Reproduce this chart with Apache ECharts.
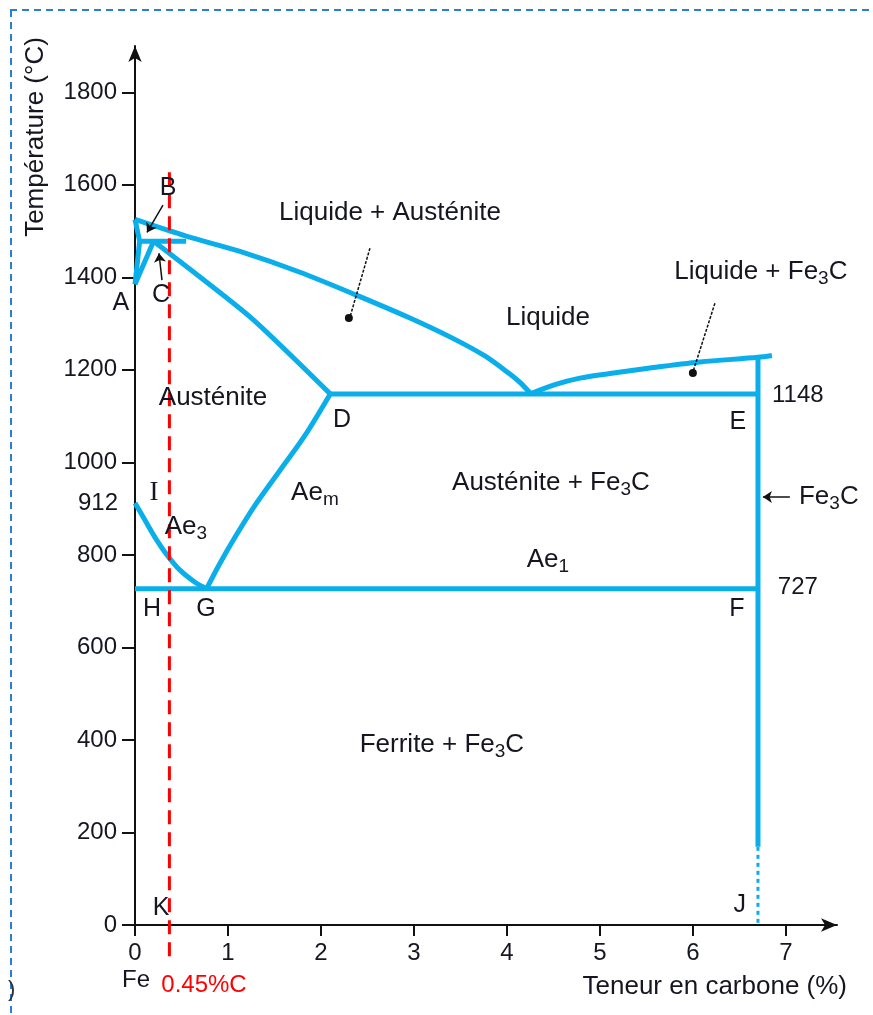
<!DOCTYPE html>
<html><head><meta charset="utf-8">
<script src="https://cdn.jsdelivr.net/npm/echarts@6/dist/echarts.min.js"></script>
<style>html,body{margin:0;padding:0;background:#fff}#c{width:873px;height:1015px}</style>
</head><body><div id="c"></div>
<script>
// ---- data (carbon %, temperature °C) ----
const xTicks = [0, 1, 2, 3, 4, 5, 6, 7];
const yTicks = [0, 200, 400, 600, 800, 1000, 1200, 1400, 1600, 1800];
const T_melt = 1525, T_peri = 1478, T_A = 1385, T_I = 912, T_eut = 1148, T_eutd = 727;
const liquidusAustenite = [[0,1525],[0.55,1489],[1.129,1456],[1.774,1411],[2.387,1361],[2.957,1312],[3.419,1268],[3.763,1230],[4.032,1191],[4.14,1173],[4.25,1150]];
const peritectic = [[0.05,1478],[0.55,1478]];
const deltaSolidus = [[0,1525],[0.05,1478]];
const deltaSolvus = [[0,1385],[0.05,1478]];
const gammaDelta = [[0,1385],[0.2,1478]];
const solidusAustenite = [[0.2,1478],[1.24,1314],[2.1,1148]];
const eutecticLine = [[2.1,1148],[6.7,1148]];
const liquidusCementite = [[4.25,1148],[4.516,1168],[4.785,1182],[5.108,1192],[5.538,1204],[6.075,1217],[6.7,1227],[6.85,1231]];
const cementiteLine = [[6.7,1231],[6.7,169]];
const cementiteLow = [[6.7,169],[6.7,0]];
const eutectoidLine = [[0,727],[6.7,727]];
const ae3 = [[0,912],[0.108,875],[0.215,838],[0.344,800],[0.484,767],[0.645,741],[0.77,727]];
const acm = [[0.77,727],[0.914,782],[1.075,838],[1.29,907],[1.56,983],[1.83,1059],[2.1,1148]];
const steel = [[0.37,1627],[0.37,-71]];
// reference (dotted) lines toward the temperature axis
const refLines = [
  [[-0.914,T_melt],[0,T_melt]],
  [[-1.344,T_peri],[0,T_peri]],
  [[-1.344,T_A],[0,T_A]],
  [[-1.344,T_I],[-0.70,T_I]],
  [[-0.14,T_I],[0,T_I]],
  [[-1.344,T_eutd],[0,T_eutd]]
];
// pointer lines with dots, and arrows
const pointers = [[[2.527,1463],[2.312,1314]], [[6.237,1344],[6.0,1195]]];
const pointerDots = [[2.30,1312],[6.0,1193]];
const arrows = [[[0.301,1556],[0.129,1497]], [[0.290,1394],[0.258,1452]], [[7.043,925],[6.753,925]]];
// text annotations: [text, x, T, kind]
const annotations = [
  ['B', 0.355, 1593, 'letter'],
  ['A', -0.151, 1344, 'letter'],
  ['C', 0.28, 1361, 'letter'],
  ['Liquide + Austénite', 2.742, 1539, 'region'],
  ['Liquide', 4.441, 1312, 'region'],
  ['Liquide + Fe{s|3}C', 6.731, 1411, 'region'],
  [String(T_eut), 7.129, 1145, 'num'],
  ['E', 6.484, 1087, 'letter'],
  ['Austénite', 0.839, 1139, 'region'],
  ['D', 2.226, 1091, 'letter'],
  ['I', 0.204, 933, 'serif'],
  ['Ae{s|m}', 1.935, 935, 'region'],
  ['Ae{s|3}', 0.548, 860, 'region'],
  ['H', 0.183, 683, 'letter'],
  ['G', 0.763, 683, 'letter'],
  ['Austénite + Fe{s|3}C', 4.473, 955, 'region'],
  ['Ae{s|1}', 4.441, 789, 'region'],
  ['Fe{s|3}C', 7.462, 925, 'region'],
  [String(T_eutd), 7.129, 730, 'num'],
  ['F', 6.473, 683, 'letter'],
  ['Ferrite + Fe{s|3}C', 3.301, 389, 'region'],
  ['K', 0.28, 37, 'letter'],
  ['J', 6.505, 43, 'letter'],
  ['Fe', 0.011, -119, 'num'],
  ['0.45%C', 0.742, -130, 'red'],
  [String(T_I), -0.398, 912, 'num']
];

const BLUE = '#0AAEEA';
const TXT = '#161622';
const FONT = 'Liberation Sans, Arial, sans-serif';
function blue(data, extra) {
  return Object.assign({
    type: 'line', data: data, symbol: 'none', silent: true, clip: false,
    lineStyle: { color: BLUE, width: 5, cap: 'butt', join: 'round' }, z: 3
  }, extra || {});
}
const kindStyle = {
  letter: { fontSize: 25, color: TXT, fontFamily: FONT },
  serif: { fontSize: 27, color: TXT, fontFamily: 'Liberation Serif, serif' },
  region: { fontSize: 26, color: TXT, fontFamily: FONT },
  num: { fontSize: 24, color: TXT, fontFamily: FONT },
  red: { fontSize: 24, color: '#ff0000', fontFamily: FONT }
};

const series = [
  blue(liquidusAustenite, { smooth: 0.3 }),
  blue(peritectic), blue(deltaSolidus), blue(deltaSolvus), blue(gammaDelta),
  blue(solidusAustenite, { smooth: 0.2 }),
  blue(eutecticLine),
  blue(liquidusCementite, { smooth: 0.3 }),
  blue(cementiteLine),
  blue(cementiteLow, { lineStyle: { color: BLUE, width: 3, type: [4, 4] } }),
  blue(eutectoidLine),
  blue(ae3, { smooth: 0.3 }),
  blue(acm, { smooth: 0.3 }),
  { type: 'line', data: steel, symbol: 'none', clip: false, silent: true, z: 5,
    lineStyle: { color: '#ff0000', width: 3, type: [14, 8] } }
];
refLines.forEach(function (d) {
  series.push({ type: 'line', data: d, symbol: 'none', clip: false, silent: true, z: 2,
    lineStyle: { color: '#111', width: 1.5, type: [4, 2] } });
});
series.push({
  type: 'lines', coordinateSystem: 'cartesian2d', silent: true, z: 6,
  data: pointers.map(function (c) { return { coords: c }; }),
  lineStyle: { color: '#111', width: 1.5, type: [3, 1.5], opacity: 1 }
});
series.push({
  type: 'lines', coordinateSystem: 'cartesian2d', silent: true, z: 6,
  symbol: ['none', 'arrow'], symbolSize: 9,
  data: arrows.map(function (c) { return { coords: c }; }),
  lineStyle: { color: '#111', width: 1.5, opacity: 1 }
});
series.push({
  type: 'scatter', data: pointerDots, symbolSize: 8, clip: false, silent: true, z: 7,
  itemStyle: { color: '#111', opacity: 1 }
});
series.push({
  type: 'scatter', clip: false, silent: true, z: 8,
  symbol: 'circle', symbolSize: 1, itemStyle: { color: 'rgba(0,0,0,0)', opacity: 1 },
  data: annotations.map(function (a) {
    const st = kindStyle[a[3]];
    return {
      value: [a[1], a[2]],
      label: Object.assign({
        show: true, position: 'inside', formatter: function () { return a[0]; },
        rich: { s: { fontSize: Math.round(st.fontSize * 0.72), color: st.color, fontFamily: st.fontFamily, padding: [14, 0, 0, 0] } }
      }, st)
    };
  })
});

const chart = echarts.init(document.getElementById('c'));
chart.setOption({
  animation: false,
  backgroundColor: '#fff',
  grid: { left: 135, top: 46, width: 702, height: 879, outerBoundsMode: 'none' },
  xAxis: {
    type: 'value', min: 0, max: 7.55,
    axisLine: { lineStyle: { color: '#111', width: 2 }, symbol: ['none', 'arrow'], symbolSize: [10, 16] },
    axisTick: { show: true, length: 11, lineStyle: { color: '#111', width: 2 }, customValues: xTicks },
    axisLabel: { customValues: xTicks, fontSize: 24, color: TXT, fontFamily: FONT, margin: 16,
      formatter: function (v) { return String(v); } },
    splitLine: { show: false }
  },
  yAxis: {
    type: 'value', min: 0, max: 1900,
    axisLine: { lineStyle: { color: '#111', width: 2 }, symbol: ['none', 'arrow'], symbolSize: [10, 16] },
    axisTick: { show: true, length: 13, lineStyle: { color: '#111', width: 2 }, customValues: yTicks },
    axisLabel: { customValues: yTicks, fontSize: 24, color: TXT, fontFamily: FONT, margin: 18,
      formatter: function (v) { return String(v); } },
    splitLine: { show: false }
  },
  graphic: [
    { type: 'line', shape: { x1: 10, y1: 10, x2: 873, y2: 10 }, style: { stroke: '#2a7fd4', lineWidth: 2, lineDash: [7, 5] }, silent: true },
    { type: 'line', shape: { x1: 11, y1: 10, x2: 11, y2: 1015 }, style: { stroke: '#2a7fd4', lineWidth: 2, lineDash: [7, 5] }, silent: true },
    { type: 'text', x: 36, y: 137, rotation: Math.PI / 2, silent: true,
      style: { text: 'Température (°C)', fontSize: 26, fill: TXT, fontFamily: FONT, align: 'center', verticalAlign: 'middle' } },
    { type: 'text', x: 847, y: 987, silent: true,
      style: { text: 'Teneur en carbone (%)', fontSize: 26, fill: TXT, fontFamily: FONT, align: 'right', verticalAlign: 'middle' } },
    { type: 'text', x: 8, y: 990, silent: true,
      style: { text: ')', fontSize: 22, fill: '#333', fontFamily: FONT, align: 'left', verticalAlign: 'middle' } }
  ],
  series: series
});
</script></body></html>
